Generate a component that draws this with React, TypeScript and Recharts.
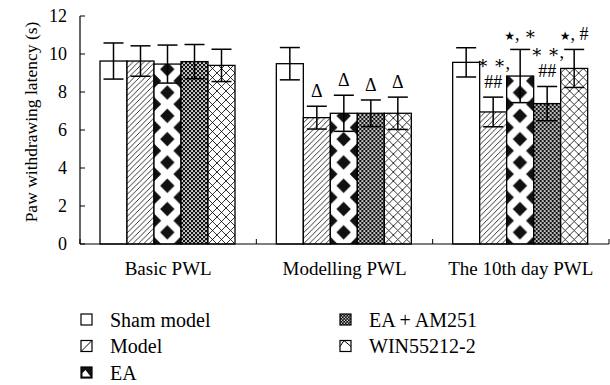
import React from 'react';
import { BarChart, Bar, XAxis, YAxis, ErrorBar, LabelList } from 'recharts';

const categories = ['Basic PWL', 'Modelling PWL', 'The 10th day PWL'];
const seriesNames = ['Sham model', 'Model', 'EA', 'EA + AM251', 'WIN55212-2'];
const seriesKeys = ['sham', 'model', 'ea', 'eaam', 'win'];

const shamValues = [9.63, 9.49, 9.56];
const modelValues = [9.63, 6.65, 6.95];
const eaValues = [9.47, 6.88, 8.84];
const eaAmValues = [9.6, 6.88, 7.39];
const winValues = [9.4, 6.88, 9.24];

const shamErrors = [0.95, 0.85, 0.77];
const modelErrors = [0.8, 0.6, 0.78];
const eaErrors = [1.0, 0.95, 1.4];
const eaAmErrors = [0.9, 0.7, 0.9];
const winErrors = [0.85, 0.85, 1.0];

// '★' is drawn as a star glyph, '|' separates lines
const shamNotes = ['', '', ''];
const modelNotes = ['', 'Δ', '∗ ∗,|##'];
const eaNotes = ['', 'Δ', '★, ∗'];
const eaAmNotes = ['', 'Δ', '∗ ∗,|##'];
const winNotes = ['', 'Δ', '★, #'];

const yTicks = [0, 2, 4, 6, 8, 10, 12];

const seriesValues = [shamValues, modelValues, eaValues, eaAmValues, winValues];
const seriesErrors = [shamErrors, modelErrors, eaErrors, eaAmErrors, winErrors];
const seriesNotes = [shamNotes, modelNotes, eaNotes, eaAmNotes, winNotes];

const data = categories.map((c, i) => {
  const row: any = { name: c };
  seriesKeys.forEach((k, j) => {
    row[k] = seriesValues[j][i];
    row[k + 'Err'] = seriesErrors[j][i];
    row[k + 'Note'] = seriesNotes[j][i];
  });
  return row;
});

const FONT = "'Liberation Serif', 'DejaVu Serif', serif";
const PLOT_W = 529;

const renderPattern = (si: number, id: string, x: number, y: number) => {
  if (si === 1) {
    return (
      <pattern id={id} patternUnits="userSpaceOnUse" x={x} y={y} width={5.5} height={5.5}>
        <rect width={5.5} height={5.5} fill="#fff" />
        <path d="M0,5.5 L5.5,0 M-1,1 L1,-1 M4.5,6.5 L6.5,4.5" stroke="#000" strokeWidth={0.8} />
      </pattern>
    );
  }
  if (si === 2) {
    const w = 26.6, h = 23.3, a = 7.2, b = 7.2;
    const d = (cx: number, cy: number) => `M${cx},${cy - b} L${cx + a},${cy} L${cx},${cy + b} L${cx - a},${cy} Z`;
    return (
      <pattern id={id} patternUnits="userSpaceOnUse" x={x} y={y} width={w} height={h}>
        <rect width={w} height={h} fill="#fff" />
        <path d={[d(w / 2, h / 2), d(0, 0), d(w, 0), d(0, h), d(w, h)].join(' ')} fill="#111" />
      </pattern>
    );
  }
  if (si === 3) {
    return (
      <pattern id={id} patternUnits="userSpaceOnUse" x={x} y={y} width={4} height={4}>
        <rect width={4} height={4} fill="#111" />
        <rect x={0.2} y={0.2} width={1.7} height={1.7} fill="#fff" />
        <rect x={2.2} y={2.2} width={1.7} height={1.7} fill="#fff" />
      </pattern>
    );
  }
  if (si === 4) {
    return (
      <pattern id={id} patternUnits="userSpaceOnUse" x={x} y={y} width={9} height={9}>
        <rect width={9} height={9} fill="#fff" />
        <path d="M0,0 L9,9 M0,9 L9,0" stroke="#000" strokeWidth={0.8} />
      </pattern>
    );
  }
  return null;
};

const makeShape = (si: number) => (props: any) => {
  const { x, y, width, height, index } = props;
  if (width == null || height == null) return null;
  const id = `pat-${si}-${index}`;
  const pat = renderPattern(si, id, x, y + height);
  return (
    <g>
      {pat && <defs>{pat}</defs>}
      <rect x={x} y={y} width={width} height={height} fill={pat ? `url(#${id})` : '#fff'} stroke="#000" strokeWidth={1.3} />
    </g>
  );
};

const renderNoteLine = (t: string) => {
  const pieces = t.split('★');
  const out: any[] = [];
  pieces.forEach((p, i) => {
    if (i > 0) out.push(<tspan key={'s' + i} fontFamily="'DejaVu Sans'" fontSize={12}>★</tspan>);
    if (p) out.push(<tspan key={'t' + i}>{p}</tspan>);
  });
  return out;
};

const makeNote = (si: number) => (props: any) => {
  const vb = props.viewBox || {};
  const x = props.x ?? vb.x;
  const y = props.y ?? vb.y;
  const width = props.width ?? vb.width;
  const height = props.height ?? vb.height;
  const index = props.index;
  const text = seriesNotes[si][index];
  if (!text) return null;
  const v = seriesValues[si][index];
  const e = seriesErrors[si][index];
  const errTop = y - e * (height / v);
  const parts = text.split('|');
  return (
    <g>
      {parts.map((t: string, k: number) => (
        <text key={k} x={x + width / 2} y={errTop - 9 - (parts.length - 1 - k) * 19} textAnchor="middle" fontFamily={FONT} fontSize={18} fill="#000">
          {renderNoteLine(t)}
        </text>
      ))}
    </g>
  );
};

const XTick = (props: any) => {
  const { x, y, payload, index } = props;
  const band = PLOT_W / categories.length;
  const left = x - band / 2;
  const right = x + band / 2;
  return (
    <g>
      <line x1={left} x2={left} y1={y} y2={y - 5} stroke="#000" strokeWidth={1} />
      {index === categories.length - 1 && <line x1={right} x2={right} y1={y} y2={y - 5} stroke="#000" strokeWidth={1} />}
      <text x={x} y={y + 31} textAnchor="middle" fontFamily={FONT} fontSize={19} fill="#000">
        {payload.value}
      </text>
    </g>
  );
};

const LegendIcon = ({ si, x, y }: { si: number; x: number; y: number }) => {
  const s = 11;
  if (si === 0) return <rect x={x} y={y} width={s} height={s} fill="#fff" stroke="#000" strokeWidth={1.2} />;
  if (si === 1)
    return (
      <g>
        <rect x={x} y={y} width={s} height={s} fill="#fff" stroke="#000" strokeWidth={1.2} />
        <line x1={x} y1={y + s} x2={x + s} y2={y} stroke="#000" strokeWidth={1} />
      </g>
    );
  if (si === 2)
    return (
      <g>
        <rect x={x} y={y} width={s} height={s} fill="#111" stroke="#000" strokeWidth={1.2} />
        <path d={`M${x + 1.5},${y + s - 1.5} L${x + 1.5},${y + 6} L${x + 4.5},${y + 3} L${x + 9.5},${y + s - 1.5} Z`} fill="#fff" />
      </g>
    );
  if (si === 3) return <rect x={x} y={y} width={s} height={s} fill="url(#legendEaAm)" stroke="#000" strokeWidth={1.2} />;
  return (
    <g>
      <rect x={x} y={y} width={s} height={s} fill="#fff" stroke="#000" strokeWidth={1.2} />
      <path d={`M${x},${y + 6} L${x + 4},${y} M${x + 4},${y} L${x + s},${y + 6}`} stroke="#000" strokeWidth={1} fill="none" />
    </g>
  );
};

const legendPos = [
  { x: 81, y: 320 },
  { x: 81, y: 346.5 },
  { x: 81, y: 373 },
  { x: 340, y: 320 },
  { x: 340, y: 346.5 },
];

export default function App() {
  return (
    <div style={{ position: 'absolute', left: 0, top: 0, width: 610, height: 385, background: '#fff' }}>
      <BarChart
        width={610}
        height={385}
        data={data}
        margin={{ top: 16, right: 1, bottom: 111, left: 0 }}
        barCategoryGap={20}
        barGap={0}
      >
        <XAxis
          dataKey="name"
          height={30}
          tickLine={false}
          tickSize={0}
          tickMargin={0}
          interval={0}
          tick={<XTick />}
          axisLine={{ stroke: '#000', strokeWidth: 1.2 }}
        />
        <YAxis
          width={80}
          domain={[0, 12]}
          ticks={yTicks}
          interval={0}
          tickSize={-5}
          tickMargin={18}
          tickLine={{ stroke: '#000' }}
          axisLine={{ stroke: '#000', strokeWidth: 1.2 }}
          tick={{ fontFamily: FONT, fontSize: 18, fill: '#000' }}
        />
        {seriesKeys.map((k, si) => (
          <Bar key={k} dataKey={k} name={seriesNames[si]} isAnimationActive={false} shape={makeShape(si)}>
            <ErrorBar dataKey={k + 'Err'} direction="y" width={10} stroke="#000" strokeWidth={1.5} />
            <LabelList dataKey={k + 'Note'} content={makeNote(si)} />
          </Bar>
        ))}
      </BarChart>
      <svg width={610} height={385} style={{ position: 'absolute', left: 0, top: 0, pointerEvents: 'none' }}>
        <defs>
          <pattern id="legendEaAm" patternUnits="userSpaceOnUse" width={3} height={3}>
            <rect width={3} height={3} fill="#111" />
            <rect x={0.2} y={0.2} width={1.2} height={1.2} fill="#fff" />
            <rect x={1.7} y={1.7} width={1.2} height={1.2} fill="#fff" />
          </pattern>
        </defs>
        <text transform="translate(37,122) rotate(-90)" textAnchor="middle" fontFamily={FONT} fontSize={17.5} fill="#000">
          Paw withdrawing latency (s)
        </text>
        {seriesNames.map((n, si) => (
          <g key={n}>
            <LegendIcon si={si} x={legendPos[si].x} y={legendPos[si].y - 6} />
            <text x={legendPos[si].x + 29} y={legendPos[si].y + 6.5} fontFamily={FONT} fontSize={20} fill="#000">
              {n}
            </text>
          </g>
        ))}
      </svg>
    </div>
  );
}
